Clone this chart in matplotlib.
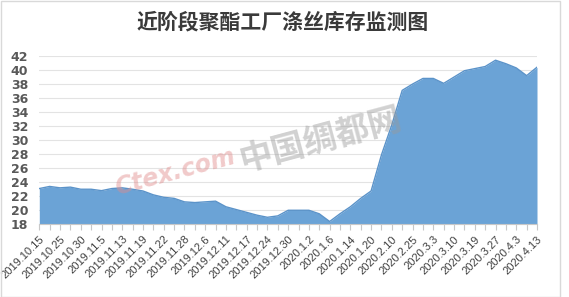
import matplotlib
matplotlib.use("Agg")
import matplotlib.pyplot as plt
import numpy as np
from matplotlib.patches import Rectangle

plt.rcParams['font.family'] = ['Noto Sans CJK SC', 'DejaVu Sans']

title = "近阶段聚酯工厂涤丝库存监测图"
date_labels = ["2019.10.15", "2019.10.25", "2019.10.30", "2019.11.5", "2019.11.13",
               "2019.11.19", "2019.11.22", "2019.11.28", "2019.12.6", "2019.12.11",
               "2019.12.17", "2019.12.24", "2019.12.30", "2020.1.2", "2020.1.6",
               "2020.1.14", "2020.1.20", "2020.2.10", "2020.2.25", "2020.3.3",
               "2020.3.10", "2020.3.19", "2020.3.27", "2020.4.3", "2020.4.13"]
inventory = [23.1, 23.4, 23.2, 23.3, 23.0, 23.0, 22.8, 23.1, 23.2, 23.0,
             22.75, 22.2, 21.85, 21.7, 21.2, 21.1, 21.2, 21.3, 20.5, 20.1,
             19.7, 19.3, 19.0, 19.2, 20.0, 20.0, 20.0, 19.5, 18.4, 19.5,
             20.5, 21.7, 22.75, 27.9, 32.2, 37.1, 38.0, 38.8, 38.8, 38.1,
             39.0, 39.9, 40.2, 40.5, 41.4, 40.9, 40.3, 39.2, 40.4]
y_ticks = list(range(18, 43, 2))

W, H = 569, 297
fig = plt.figure(figsize=(W / 100, H / 100), dpi=100)
ax = fig.add_axes([39.3 / W, 1 - 224.3 / H, (537 - 39.3) / W, (224.3 - 56) / H])

x = np.arange(len(inventory))
ax.fill_between(x, 18, inventory, color='#6ba3d6', lw=0, zorder=2)
ax.plot(x, inventory, color='#5b93c9', lw=1.0, zorder=3)

ax.set_xlim(0, len(inventory) - 1)
ax.set_ylim(18, 42)
ax.set_yticks(y_ticks)
ax.set_yticklabels([str(v) for v in y_ticks], fontsize=9, fontweight='bold',
                   color='#595959', family='DejaVu Sans')
ax.tick_params(axis='y', length=0, pad=8)
ax.grid(axis='y', color='#e3e3e3', lw=0.8, zorder=0)
ax.set_axisbelow(True)

ax.set_xticks(x)
ax.set_xticklabels([date_labels[i // 2] if i % 2 == 0 else "" for i in x],
                   rotation=45, ha='right', va='top', rotation_mode='anchor',
                   fontsize=8, color='#404040', family='Liberation Sans')
ax.tick_params(axis='x', length=4, width=0.8, color='#c8c8c8', pad=3)

for s in ['top', 'right', 'left']:
    ax.spines[s].set_visible(False)
ax.spines['bottom'].set_color('#c8c8c8')
ax.spines['bottom'].set_linewidth(0.8)

fig.text(283 / W, 1 - 22 / H, title, ha='center', va='center', fontsize=15,
         fontweight='bold', color='#3a3a3a')

# watermark
fig.text(320 / W, 1 - 140 / H, "中国绸都网", ha='center', va='center', fontsize=24,
         fontweight='bold', color='#9a9a9a', alpha=0.45, rotation=15, zorder=5)
fig.text(175 / W, 1 - 172 / H, "Ctex.com", ha='center', va='center', fontsize=17,
         fontstyle='italic', fontweight='bold', color='#e08a8a', alpha=0.45,
         rotation=15, family='DejaVu Sans', zorder=5)

fig.add_artist(Rectangle((0.5 / W, 0.5 / H), 559.5 / W, (H - 1.5) / H,
                         transform=fig.transFigure, fill=False,
                         edgecolor='#d9d9d9', lw=1.0))

fig.savefig("out.png", dpi=100)
